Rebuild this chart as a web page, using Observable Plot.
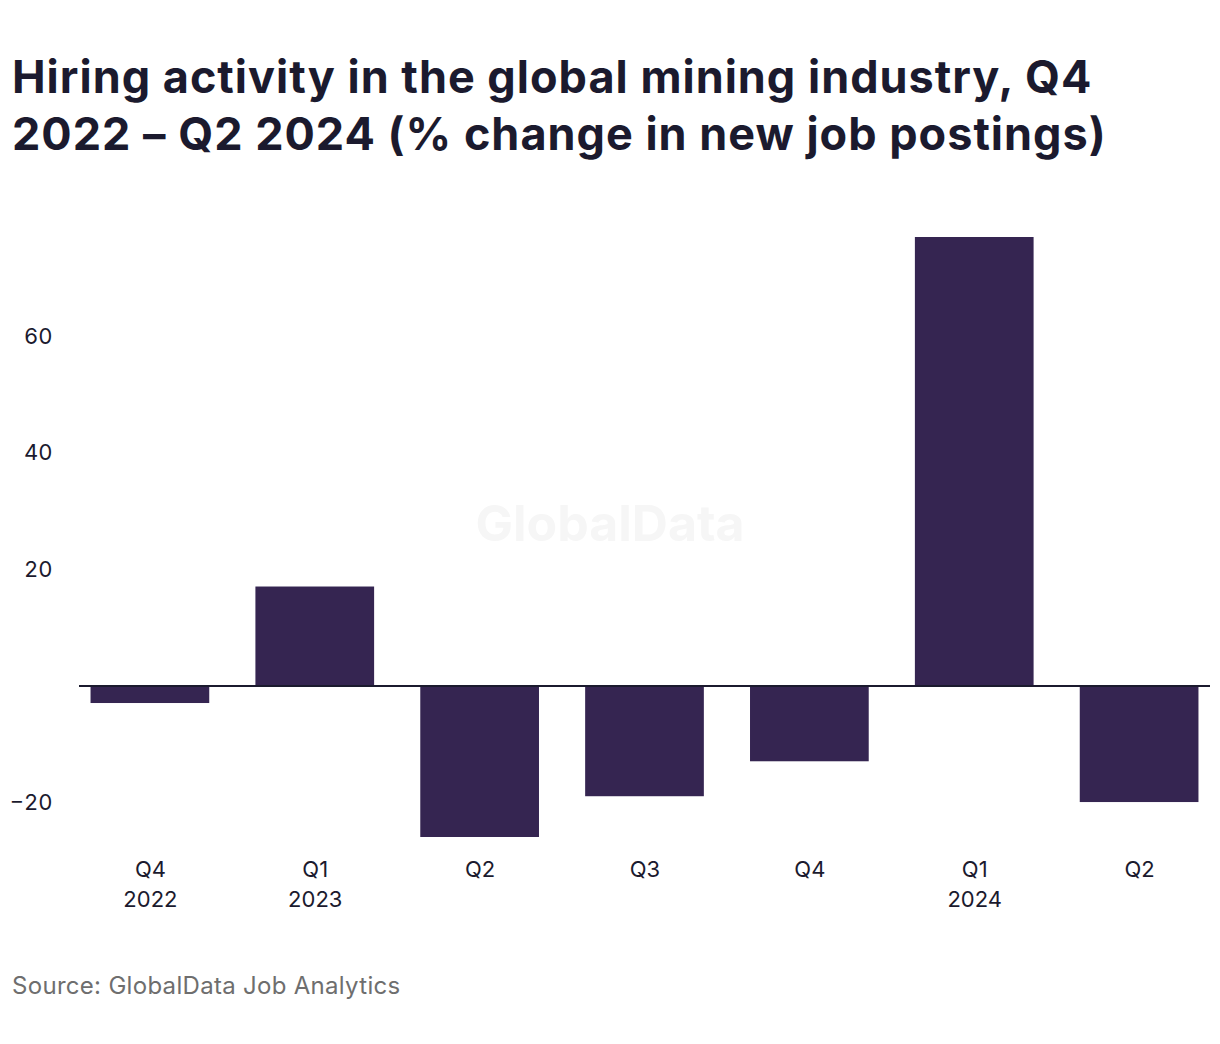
<!DOCTYPE html>
<html>
<head>
<meta charset="utf-8">
<script src="https://cdn.jsdelivr.net/npm/d3@7"></script>
<script src="https://cdn.jsdelivr.net/npm/@observablehq/plot@0.6"></script>
<style>
  html, body { margin: 0; padding: 0; background: #fff; }
  body { width: 1220px; height: 1044px; position: relative; font-family: Inter, "Noto Sans", sans-serif; }
  #title { position: absolute; left: 12px; top: 48px; font-weight: 700; font-size: 45px; line-height: 57px; color: #1b1a2e; letter-spacing: 1px; white-space: nowrap; }
  #chart { position: absolute; left: 0; top: 190px; }
  #watermark { position: absolute; left: 0; width: 1220px; text-align: center; top: 493px; font-weight: 700; font-size: 50px; color: #f6f6f6; }
  #source { position: absolute; left: 12px; top: 971px; font-size: 24px; color: #6e6e6e; letter-spacing: 0.3px; }
</style>
</head>
<body>
<div id="title">Hiring activity in the global mining industry, Q4<br>2022 – Q2 2024 (% change in new job postings)</div>
<div id="watermark">GlobalData</div>
<div id="chart"></div>
<div id="source">Source: GlobalData Job Analytics</div>
<script>
const quarters = ["Q4 2022", "Q1 2023", "Q2 2023", "Q3 2023", "Q4 2023", "Q1 2024", "Q2 2024"];
const tickLabels = ["Q4\n2022", "Q1\n2023", "Q2", "Q3", "Q4", "Q1\n2024", "Q2"];
const changes = [-3, 17, -26, -19, -13, 77, -20];
const yTicks = [-20, 20, 40, 60];

const data = quarters.map((q, i) => ({q, v: changes[i], label: tickLabels[i]}));

const chart = Plot.plot({
  width: 1220,
  height: 740,
  marginLeft: 79,
  marginRight: 10,
  marginTop: 47,
  marginBottom: 93,
  style: {fontFamily: "Inter, 'Noto Sans', sans-serif", background: "transparent", color: "#1b1a2e"},
  x: {domain: quarters, paddingInner: 0.28, paddingOuter: 0.07, round: false, axis: null},
  y: {domain: [-26, 77], axis: null},
  marks: [
    Plot.barY(data, {x: "q", y: "v", fill: "#352551"}),
    Plot.ruleY([0], {stroke: "#1b1a2e", strokeWidth: 2}),
    Plot.axisY(yTicks, {anchor: "left", tickSize: 0, tickPadding: 27, fontSize: 22, fill: "#1b1a2e", label: null}),
    Plot.text(data, {x: "q", text: "label", frameAnchor: "bottom", lineAnchor: "top", dy: 18, lineHeight: 1.36, fontSize: 22, fill: "#1b1a2e"})
  ]
});
document.getElementById("chart").appendChild(chart);
</script>
</body>
</html>
